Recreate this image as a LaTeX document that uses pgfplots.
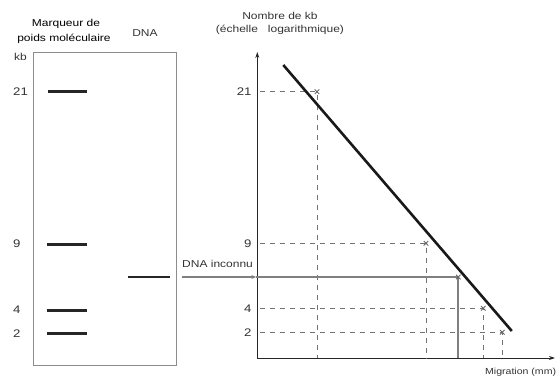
\documentclass[border=0pt]{standalone}
\usepackage{fontspec}
\setmainfont{Liberation Sans}[FakeStretch=1.2]
\usepackage{pgfplots}
\pgfplotsset{compat=1.18}
\usetikzlibrary{arrows.meta}
\definecolor{dashgray}{gray}{0.45}
\definecolor{boxgray}{gray}{0.55}

\begin{document}
\begin{tikzpicture}[x=1pt,y=1pt]
\useasboundingbox (0,0) rectangle (558,381);

% ---------------- left panel: gel ----------------
\begin{axis}[at={(33.3pt,16pt)}, anchor=south west, scale only axis,
  width=142.7pt, height=313pt,
  xmin=0, xmax=14.27, ymin=0, ymax=31.3, y dir=reverse,
  axis line style={boxgray, line width=0.8pt},
  xtick=\empty, ytick={3.97,19.2,25.8,28.15}, yticklabels={21,9,4,2},
  major tick length=0pt,
  yticklabel style={anchor=west, inner sep=0pt, xshift=-20.3pt, font=\fontsize{11}{12}\selectfont, text=black!80},
  clip=false]
\addplot[black!85, line width=3pt] coordinates {(1.47,3.97) (5.37,3.97)};
\addplot[black!85, line width=3pt] coordinates {(1.34,19.2) (5.34,19.2)};
\addplot[black!85, line width=3pt] coordinates {(1.34,25.8) (5.34,25.8)};
\addplot[black!85, line width=3pt] coordinates {(1.34,28.15) (5.34,28.15)};
\addplot[black!85, line width=2.4pt] coordinates {(9.5,22.47) (13.67,22.47)};
\node[anchor=west, inner sep=0pt, font=\fontsize{10}{11}\selectfont, text=black!80] at (axis cs:-1.93,0.47) {kb};
\node[inner sep=0pt, font=\fontsize{10}{11}\selectfont] at (axis cs:3.27,-2.8) {Marqueur de};
\node[inner sep=0pt, font=\fontsize{10}{11}\selectfont] at (axis cs:3.07,-1.3) {poids moléculaire};
\node[inner sep=0pt, font=\fontsize{10}{11}\selectfont, text=black!80] at (axis cs:11.17,-1.9) {DNA};
\end{axis}

% ---------------- right panel: calibration plot ----------------
\begin{axis}[at={(257.3pt,23pt)}, anchor=south west, scale only axis,
  width=297.7pt, height=306pt,
  xmin=0, xmax=29.77, ymin=0, ymax=30.6,
  axis lines=left,
  axis line style={black!85, line width=0.9pt, -{Stealth[length=6pt,width=4pt]}},
  xtick=\empty, ytick={2.57,4.97,11.47,26.63}, yticklabels={2,4,9,21},
  major tick length=0pt,
  yticklabel style={anchor=east, inner sep=0pt, xshift=-5.6pt, font=\fontsize{11}{12}\selectfont, text=black!80},
  clip=false]
% dashed guide lines
\addplot[dashgray, line width=0.8pt, dash pattern=on 5pt off 5pt] coordinates {(0.3,26.63) (5.97,26.63) (5.97,0)};
\addplot[dashgray, line width=0.8pt, dash pattern=on 5pt off 5pt] coordinates {(0.3,11.47) (16.87,11.47) (16.87,0)};
\addplot[dashgray, line width=0.8pt, dash pattern=on 5pt off 5pt] coordinates {(0.3,4.97) (22.6,4.97) (22.6,0)};
\addplot[dashgray, line width=0.8pt, dash pattern=on 5pt off 5pt] coordinates {(0.3,2.57) (24.5,2.57) (24.5,0)};
% unknown DNA
\addplot[gray, line width=1.6pt, -{Stealth[length=5pt,width=4pt]}] coordinates {(-7.5,8.1) (-0.1,8.1)};
\addplot[gray, line width=1.6pt] coordinates {(-0.1,8.1) (20.1,8.1)};
\addplot[gray, line width=1.9pt] coordinates {(20.1,8.1) (20.1,0)};
% markers
\addplot[only marks, mark=x, mark size=3.2pt, black!60, line width=0.9pt] coordinates {(5.97,26.63) (16.87,11.47) (20.1,8.1) (22.6,4.97) (24.5,2.57)};
% fitted line
\addplot[black!90, line width=2.6pt] coordinates {(2.6,29.3) (25.45,2.7)};
\node[inner sep=0pt, font=\fontsize{10}{11}\selectfont, text=black!80] at (axis cs:2.27,34.2) {Nombre de kb};
\node[inner sep=0pt, font=\fontsize{10}{11}\selectfont, text=black!80] at (axis cs:2.27,32.8) {(échelle\ \ \ logarithmique)};
\node[anchor=west, inner sep=0pt, font=\fontsize{10}{11}\selectfont, text=black!80] at (axis cs:-7.53,9.4) {DNA inconnu};
\node[anchor=east, inner sep=0pt, font=\fontsize{8.8}{10}\selectfont, text=black!80] at (axis cs:29.9,-1.4) {Migration (mm)};
\end{axis}
\end{tikzpicture}
\end{document}
